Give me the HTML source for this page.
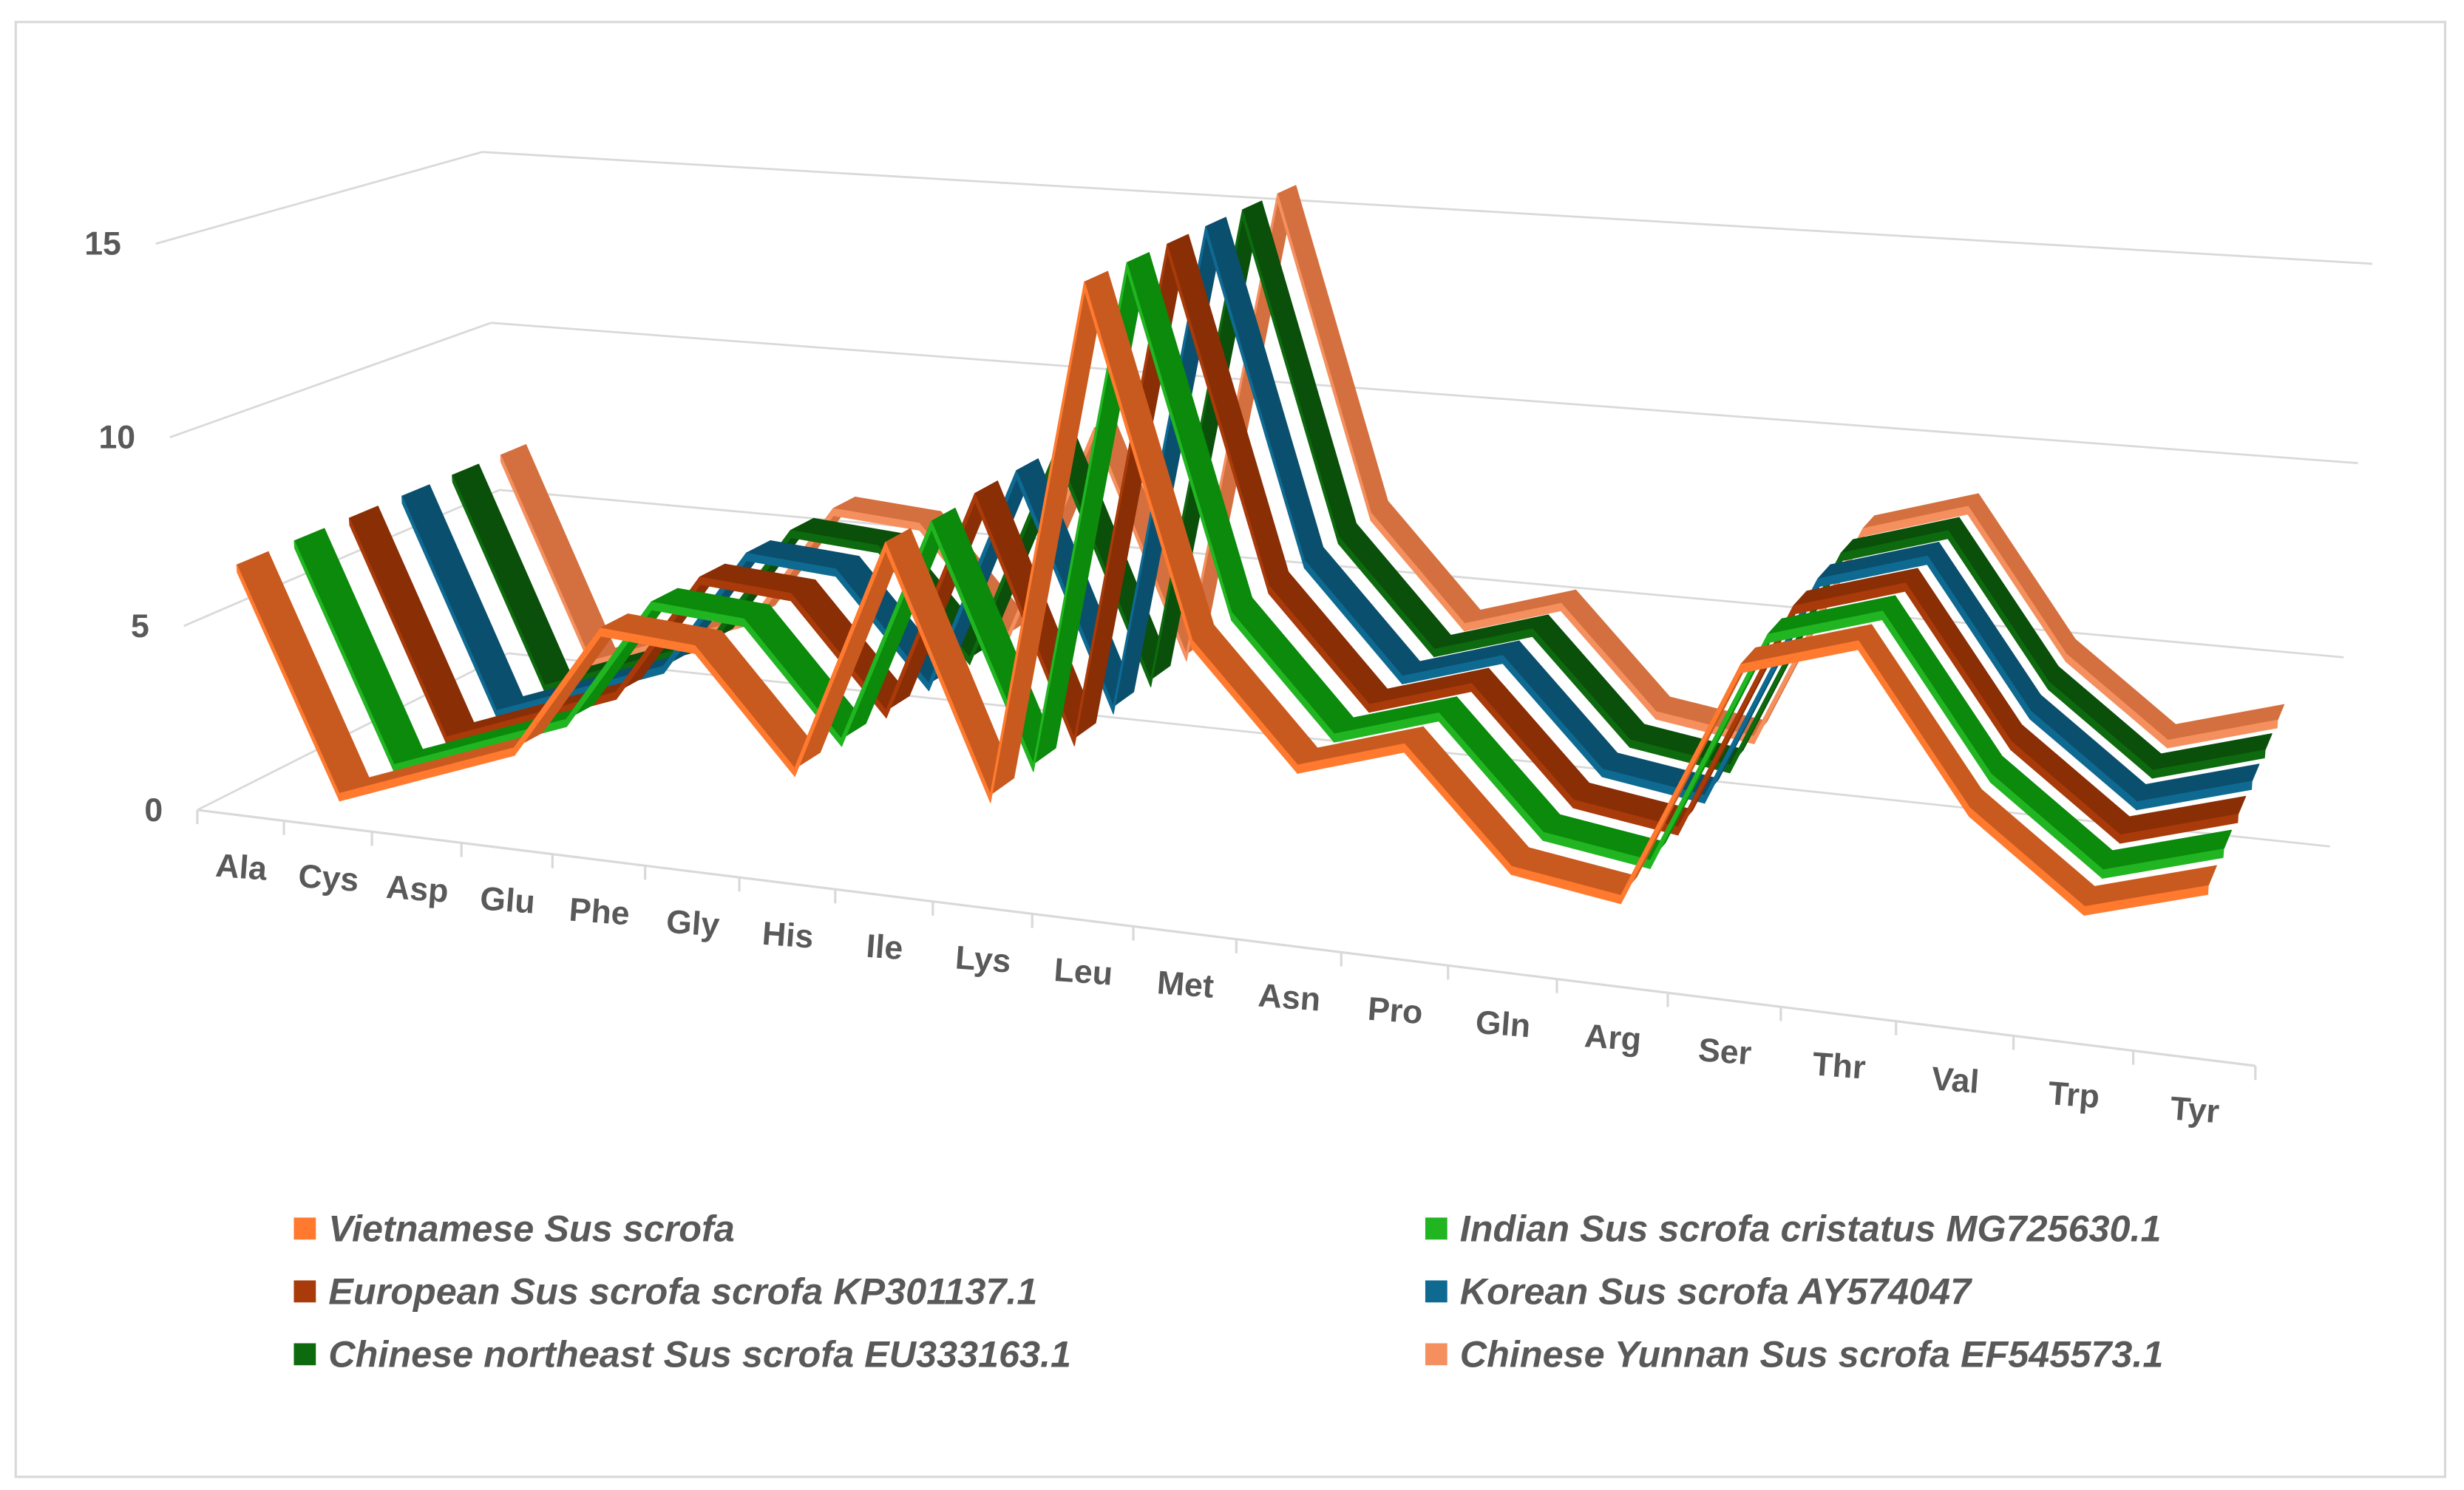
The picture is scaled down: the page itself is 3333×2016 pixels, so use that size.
<!DOCTYPE html>
<html><head><meta charset="utf-8"><style>
html,body{margin:0;padding:0;background:#fff;}
svg{display:block;}
text{font-family:"Liberation Sans",sans-serif;}
</style></head><body>
<svg id="chart" xmlns="http://www.w3.org/2000/svg" width="3333" height="2016" viewBox="0 0 1568 948.4" preserveAspectRatio="none">
<rect x="10" y="14" width="1546" height="926" fill="#fff" stroke="#d9d9d9" stroke-width="1.5"/>
<g id="grid"></g>
<g id="axis"></g>
<g id="vaxis"></g>
<g id="series"></g>
<g id="legend"></g>
</svg>
<script>
const categories = ["Ala","Cys","Asp","Glu","Phe","Gly","His","Ile","Lys","Leu","Met","Asn","Pro","Gln","Arg","Ser","Thr","Val","Trp","Tyr"];
const seriesNames = ["Vietnamese Sus scrofa","Indian Sus scrofa cristatus MG725630.1","European Sus scrofa scrofa KP301137.1","Korean Sus scrofa AY574047","Chinese northeast Sus scrofa EU333163.1","Chinese Yunnan Sus scrofa EF545573.1"];
const vietnamese = [6.6,0.7,1.6,2.5,5.9,5.7,2.8,8.8,2.7,15.5,7.1,4.3,5.1,2.4,2.0,7.8,8.6,5.0,3.0,3.8];
const indian     = [6.6,0.7,1.6,2.5,5.9,5.7,2.8,8.7,2.7,15.5,7.1,4.3,5.1,2.4,2.0,7.8,8.6,5.0,3.0,3.8];
const european   = [6.6,0.7,1.6,2.5,5.9,5.7,2.8,8.8,2.6,15.5,7.1,4.3,5.1,2.4,2.0,7.8,8.6,5.0,3.0,3.8];
const korean     = [6.6,0.7,1.6,2.5,5.9,5.7,2.8,8.8,2.7,15.5,7.1,4.3,5.1,2.4,2.0,7.8,8.6,5.0,3.0,3.8];
const northeast  = [6.6,0.7,1.6,2.5,5.9,5.7,2.8,8.8,2.7,15.5,7.1,4.3,5.1,2.4,2.0,7.8,8.6,5.0,3.0,3.8];
const yunnan     = [6.6,0.7,1.6,2.5,5.9,5.7,2.8,8.8,2.7,15.5,7.1,4.3,5.1,2.4,2.0,7.8,8.6,5.0,3.0,3.8];
const seriesValues = [vietnamese, indian, european, korean, northeast, yunnan];
const valueTicks = [0,5,10,15];

const faceColors = ["#c95a1f","#0b8a0b","#8a2e06","#0b4f6e","#0a4f0a","#d4703f"];
const edgeColors = ["#ff7a2f","#22b522","#a93a0a","#0f6a92","#0e6a0e","#f5905e"];
const NS = "http://www.w3.org/2000/svg";

const calib = [
 [0,0,0,126,516],[0,15,0,99,155],[0,5,0,117,398],[0,10,0,108,278],
 [0,0,1,323,416],[0,15,1,307,97],[20,0,1,1483,538],[20,15,1,1510,168],
 [20,0,0,1435,679],[20,10,1,1500,295]];
function solveCamera(){
  const A=[],b=[];
  calib.forEach(([X,Y,Z,u,v])=>{
    A.push([X,Y,Z,1,0,0,0,0,-u*X,-u*Y,-u*Z]);b.push(u);
    A.push([0,0,0,0,X,Y,Z,1,-v*X,-v*Y,-v*Z]);b.push(v);
  });
  const n=11,M=[];
  for(let i=0;i<n;i++){M.push([]);for(let j=0;j<=n;j++){let s=0;for(let k=0;k<A.length;k++)s+=A[k][i]*(j<n?A[k][j]:b[k]);M[i].push(s);}}
  for(let c=0;c<n;c++){let p=c;for(let r=c+1;r<n;r++)if(Math.abs(M[r][c])>Math.abs(M[p][c]))p=r;[M[c],M[p]]=[M[p],M[c]];
    for(let r=0;r<n;r++){if(r===c)continue;const f=M[r][c]/M[c][c];for(let j=c;j<=n;j++)M[r][j]-=f*M[c][j];}}
  return M.map((r,i)=>r[n]/r[i]);
}
const P=solveCamera();
function proj(X,Y,Z){const w=P[8]*X+P[9]*Y+P[10]*Z+1;
  return [(P[0]*X+P[1]*Y+P[2]*Z+P[3])/w,(P[4]*X+P[5]*Y+P[6]*Z+P[7])/w];}
function el(tag,attrs,parent){const e=document.createElementNS(NS,tag);for(const k in attrs)e.setAttribute(k,attrs[k]);parent.appendChild(e);return e;}
function line(a,b,parent,name,color,w){const e=el('line',{x1:a[0],y1:a[1],x2:b[0],y2:b[1],stroke:color,'stroke-width':w},parent);
  
  
  return e;}

const grid=document.getElementById('grid');
valueTicks.forEach(t=>{
  line(proj(0,t,0),proj(0,t,1),grid,'side-gridline','#d9d9d9',1.3);
  line(proj(0,t,1),proj(20,t,1),grid,'back-gridline','#d9d9d9',1.3);
});
const axis=document.getElementById('axis');
line(proj(0,0,0),proj(20,0,0),axis,'category-axis-line','#d9d9d9',1.5);
for(let i=0;i<=20;i++){const a=proj(i,0,0);line(a,[a[0],a[1]+9],axis,'category-tick','#d9d9d9',1.5);}
categories.forEach((c,i)=>{
  const a=proj(i+0.5,0,0);const p0=proj(0,0,0),p1=proj(20,0,0);
  const ang=Math.atan2(p1[1]-p0[1],p1[0]-p0[0])*180/Math.PI*0.6;
  const t=el('text',{x:a[0],y:a[1]+40,'text-anchor':'middle','font-size':21,'font-weight':'bold',fill:'#595959',transform:`rotate(${ang} ${a[0]} ${a[1]+40})`},axis);
  
  
  t.textContent=c;
});
const vaxis=document.getElementById('vaxis');
valueTicks.forEach(t=>{
  const a=proj(0,t,0);
  const e=el('text',{x:a[0]-22,y:a[1]+7,'text-anchor':'end','font-size':21,'font-weight':'bold',fill:'#595959'},vaxis);
  
  
  e.textContent=t;
});

const sg=document.getElementById('series');
const W=0.045,TH=0.2;
function poly(pts,fill,parent){return el('polygon',{points:pts.map(p=>p[0].toFixed(1)+','+p[1].toFixed(1)).join(' '),fill:fill,stroke:fill,'stroke-width':0.6,'stroke-linejoin':'round'},parent);}
for(let s=seriesValues.length-1;s>=0;s--){
  const vals=seriesValues[s];const zc=(s+0.5)/6;
  const g=el('g',{},sg);
  
  
  for(let i=0;i<vals.length-1;i++){
    const x0=i+0.5,x1=i+1.5,v0=vals[i],v1=vals[i+1];
    const top=poly([proj(x0,v0,zc-W),proj(x1,v1,zc-W),proj(x1,v1,zc+W),proj(x0,v0,zc+W)],faceColors[s],g);
    
    
    const fr=poly([proj(x0,v0,zc-W),proj(x1,v1,zc-W),proj(x1,v1-TH,zc-W),proj(x0,v0-TH,zc-W)],edgeColors[s],g);
    
    
  }
}

const lg=document.getElementById('legend');
const legendPos=[[187,782],[907,782],[187,822],[907,822],[187,862],[907,862]];
const legendOrder=[0,1,2,3,4,5];
legendOrder.forEach((s,k)=>{
  const [x,y]=legendPos[k];
  const r=el('rect',{x:x,y:y-7,width:14,height:14,fill:edgeColors[s]},lg);
  
  
  const t=el('text',{x:x+22,y:y+8,'font-size':23.7,'font-weight':'bold','font-style':'italic',fill:'#595959'},lg);
  
  
  t.textContent=seriesNames[s];
});
</script>
</body></html>
